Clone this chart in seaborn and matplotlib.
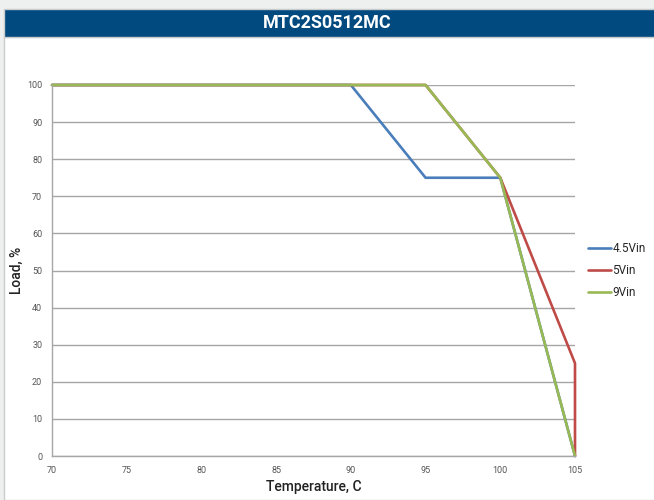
import numpy as np
import pandas as pd
import matplotlib
matplotlib.use("Agg")
import matplotlib.pyplot as plt
import seaborn as sns
from matplotlib.patches import Rectangle

# dados (temperatura em C, carga em %)
temp_45 = [70, 90, 95, 100, 105]
load_45 = [100, 100, 75, 75, 0]
temp_5 = [70, 95, 100, 105, 105]
load_5 = [100, 100, 75, 25, 0]
temp_9 = [70, 95, 100, 105]
load_9 = [100, 100, 75, 0]
series = ['4.5Vin', '5Vin', '9Vin']
cores = ['#4a7ebb', '#be4b48', '#98b954']

df = pd.concat([
    pd.DataFrame({'Temperature': temp_45, 'Load': load_45, 'Serie': series[0]}),
    pd.DataFrame({'Temperature': temp_5, 'Load': load_5, 'Serie': series[1]}),
    pd.DataFrame({'Temperature': temp_9, 'Load': load_9, 'Serie': series[2]}),
], ignore_index=True)

sns.set_style('white')
plt.rcParams['font.family'] = ['Roboto', 'DejaVu Sans']

fig = plt.figure(figsize=(6.54, 5), dpi=100)
fig.patch.set_facecolor('#eef0f0')

# painel branco e barra de título
fig.add_artist(Rectangle((4/654, 0), 1, (500-37)/500, transform=fig.transFigure,
                         facecolor='white', edgecolor='#c8cccc', lw=1, zorder=0))
fig.add_artist(Rectangle((4/654, (500-37)/500), 1, 28/500, transform=fig.transFigure,
                         facecolor='#004a80', edgecolor='#c8cccc', lw=1, zorder=0))
fig.text(0.5, (500-23)/500, 'MTC2S0512MC', color='white', fontsize=13,
         fontweight='bold', ha='center', va='center')

ax = fig.add_axes([52/654, 44/500, (575-52)/654, (456-85)/500])
ax.set_facecolor('none')

sns.lineplot(data=df, x='Temperature', y='Load', hue='Serie', estimator=None,
             sort=False, palette=cores, lw=1.9, ax=ax, clip_on=False)

ax.set_xlim(70, 105)
ax.set_ylim(0, 100)
ax.set_xticks(range(70, 106, 5))
ax.set_yticks(range(0, 101, 10))
ax.tick_params(axis='both', labelsize=6.5, colors='#a6a6a6', length=4,
               direction='out', width=0.8, pad=3)
ax.tick_params(axis='both', labelcolor='#555555')
ax.yaxis.grid(True, color='#a6a6a6', lw=1)
ax.xaxis.grid(False)
ax.set_axisbelow(True)
for side in ['top', 'right']:
    ax.spines[side].set_visible(False)
for side in ['left', 'bottom']:
    ax.spines[side].set_color('#a6a6a6')
    ax.spines[side].set_linewidth(1)

ax.set_xlabel('Temperature, C', fontsize=10, color='#222222', labelpad=4,
              fontweight='medium')
ax.set_ylabel('Load, %', fontsize=10, color='#222222', labelpad=2,
              fontweight='medium')

ax.legend(loc='center left', bbox_to_anchor=(1.005, 0.5), frameon=False,
          fontsize=8.5, handlelength=1.9, handletextpad=0.15, labelspacing=0.75,
          title=None)

fig.savefig('out.png', dpi=100, facecolor=fig.get_facecolor())
